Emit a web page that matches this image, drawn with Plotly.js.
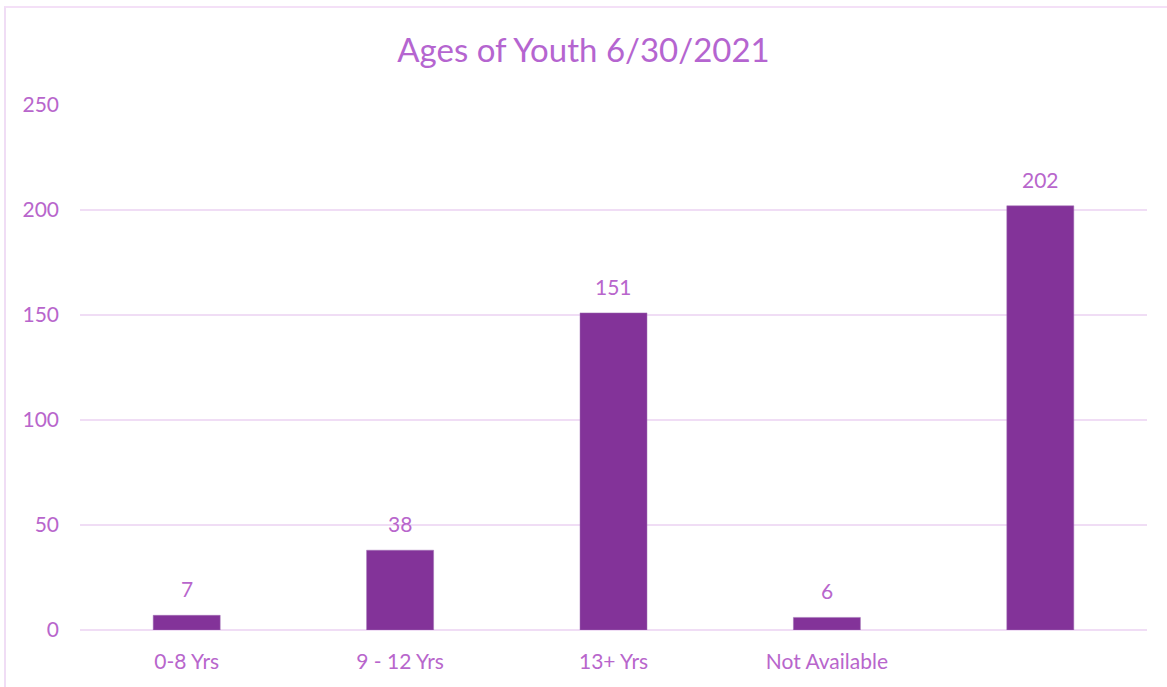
<!DOCTYPE html>
<html>
<head>
<meta charset="utf-8">
<script src="https://cdn.plot.ly/plotly-3.0.1.min.js"></script>
<style>
html,body{margin:0;padding:0;overflow:hidden;background:#fff;width:1167px;height:687px;}
#frame{position:absolute;left:4px;top:6px;width:1300px;height:800px;border-left:2px solid #F0DDF5;border-top:2px solid #F4E0F7;}
#chart{position:absolute;left:0;top:0;width:1167px;height:687px;}
</style>
</head>
<body>
<div id="frame"></div>
<div id="chart"></div>
<script>
const categories = ["0-8 Yrs", "9 - 12 Yrs", "13+ Yrs", "Not Available", ""];
const values = [7, 38, 151, 6, 202];
const yTicks = [0, 50, 100, 150, 200, 250];

const xIdx = categories.map((c, i) => i);
const textColor = "#B866CC";
const fontFam = "Lato, 'Open Sans', sans-serif";

const trace = {
  type: "bar",
  x: xIdx,
  y: values,
  marker: {color: "#833399", line: {color: "#A070B5", width: 0.5}},
  width: 0.314,
  hoverinfo: "x+y"
};

const annotations = values.map((v, i) => ({
  x: xIdx[i], y: v, xref: "x", yref: "y",
  text: String(v), showarrow: false,
  yanchor: "bottom", yshift: 12,
  font: {family: fontFam, size: 21, color: textColor}
}));

const layout = {
  width: 1167,
  height: 687,
  paper_bgcolor: "rgba(0,0,0,0)",
  plot_bgcolor: "rgba(0,0,0,0)",
  margin: {l: 80, r: 20, t: 105, b: 57},
  title: {
    text: "Ages of Youth 6/30/2021",
    font: {family: fontFam, size: 33, color: "#B565D0"},
    x: 0.5, xanchor: "center", y: 0.927, yanchor: "middle"
  },
  xaxis: {
    tickmode: "array",
    tickvals: xIdx,
    ticktext: categories,
    range: [-0.5, categories.length - 0.5],
    showgrid: false,
    zeroline: false,
    showline: false,
    ticks: "",
    tickfont: {family: fontFam, size: 21, color: textColor},
    ticklabelstandoff: 17
  },
  yaxis: {
    range: [0, 250],
    tickmode: "array",
    tickvals: yTicks,
    showgrid: true,
    gridcolor: "#F0DDF5",
    gridwidth: 1.5,
    zeroline: true,
    zerolinecolor: "#F0DDF5",
    zerolinewidth: 2,
    showline: false,
    ticks: "",
    tickfont: {family: fontFam, size: 21, color: textColor},
    ticklabelstandoff: 20
  },
  annotations: annotations,
  showlegend: false
};

Plotly.newPlot("chart", [trace], layout, {displayModeBar: false, staticPlot: true});
</script>
</body>
</html>
